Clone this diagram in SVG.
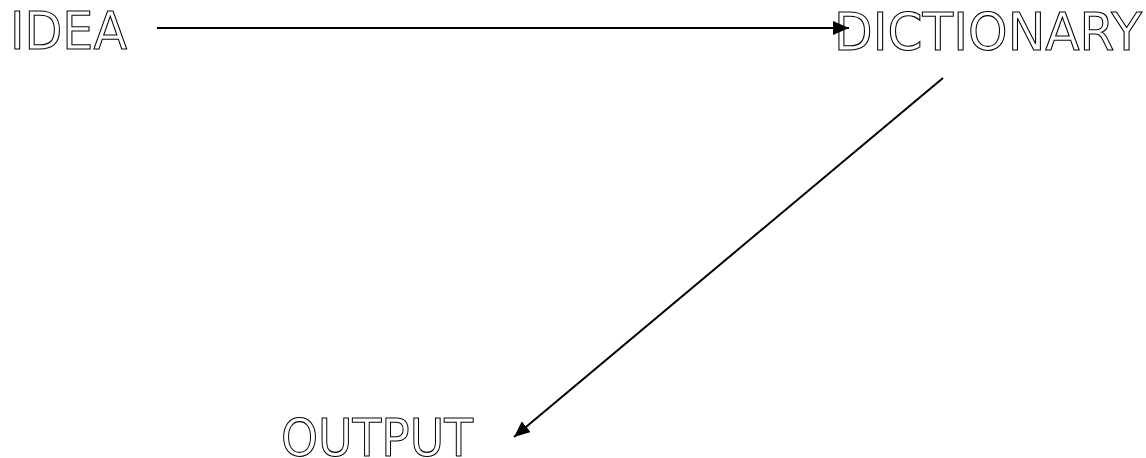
<svg xmlns="http://www.w3.org/2000/svg" width="1146" height="458" viewBox="0 0 1146 458">
<style>
.t{font-family:"DejaVu Sans",sans-serif;font-size:52px;fill:#fff;stroke:#000;stroke-width:1.1}
.c{stroke:#000;stroke-width:2;fill:none}
</style>
<defs>
<marker id="ah" viewBox="0 0 16 14" refX="16" refY="7" markerWidth="16" markerHeight="14" markerUnits="userSpaceOnUse" orient="auto">
<path d="M0,0L16,7L0,14z" fill="#000"/>
</marker>
</defs>
<rect width="1146" height="458" fill="#fff"/>
<g id="idea"><text class="t" x="10" y="49" textLength="117" lengthAdjust="spacingAndGlyphs">IDEA</text></g>
<g id="dictionary"><text class="t" x="834" y="50" textLength="308" lengthAdjust="spacingAndGlyphs">DICTIONARY</text></g>
<g id="output"><text class="t" x="281" y="456" textLength="192" lengthAdjust="spacingAndGlyphs">OUTPUT</text></g>
<g id="connectors">
<line class="c" x1="157" y1="28" x2="849" y2="28" marker-end="url(#ah)"/>
<line class="c" x1="943" y1="78" x2="514" y2="437" marker-end="url(#ah)"/>
</g>
</svg>
